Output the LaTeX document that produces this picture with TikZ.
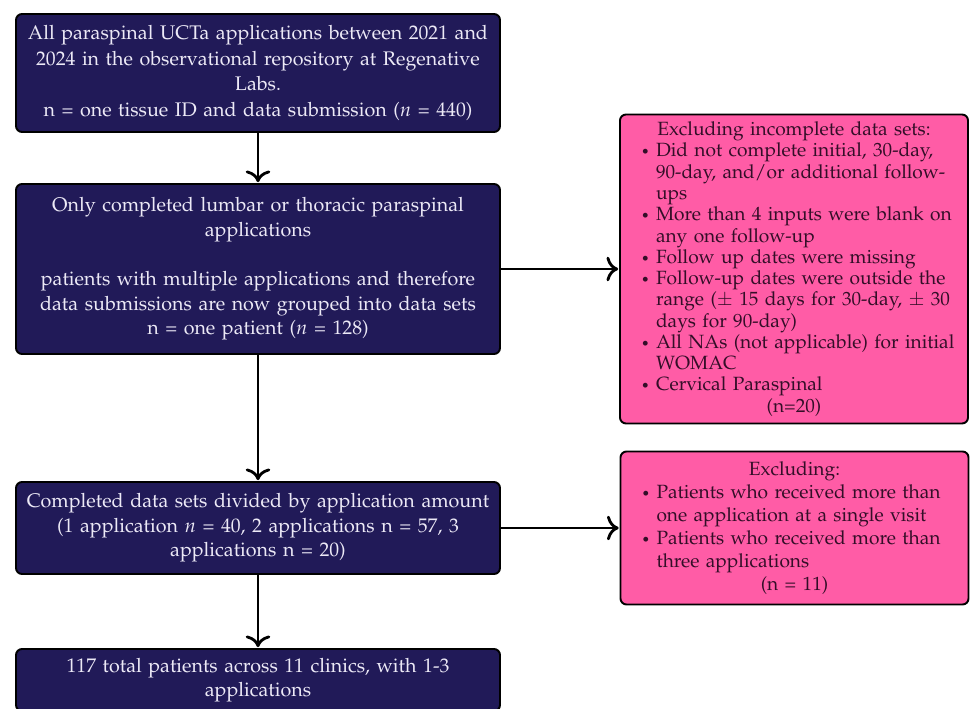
\documentclass[tikz,border=0pt]{standalone}
\usepackage[T1]{fontenc}
\usepackage{mathpazo}
\usepackage{tikz}
\usetikzlibrary{positioning,arrows.meta}
\definecolor{navy}{RGB}{33,26,88}
\definecolor{rose}{RGB}{255,92,166}
\definecolor{lilac}{RGB}{236,233,246}
\definecolor{plum}{RGB}{52,14,40}
\tikzset{
node distance=4cm, % centre to centre, since the picture is on grid
>={To[scale=1.3]}, % a heavier arrow head
stepbox/.style={draw=black, line width=1.1pt, rounded corners=0.12cm, fill=navy, text=lilac,
  minimum width=9.68cm, text width=9.68cm, inner sep=0pt, align=center,
  font=\fontsize{11.2}{14}\selectfont},
dropbox/.style={draw=black, line width=1.1pt, rounded corners=0.12cm, fill=rose, text=plum,
  minimum width=6.96cm, text width=6.76cm, inner xsep=0.1cm, inner ysep=0pt, align=left,
  font=\fontsize{10.9}{12.1}\selectfont},
}
% one bullet line with a hanging indent
\newcommand{\dropitem}{\par\noindent\hangindent=0.3cm\hangafter=1\makebox[0.3cm][l]{\footnotesize\textbullet}}

\begin{document}
\begin{tikzpicture}[shorten >=0.5pt,on grid,line width=1.6pt]
		\useasboundingbox (0,0) rectangle (19.4,-14.18);
		\node[stepbox, minimum height=2.36cm, font=\fontsize{11.2}{14.6}\selectfont] (s_0) at (5.16,-1.46)
		  {All paraspinal UCTa applications between 2021 and\\
		   2024 in the observational repository at Regenative\\
		   Labs.\\
		   n = one tissue ID and data submission ($n$ = 440)};
		\node[stepbox, minimum height=3.4cm] (s_1) [below=3.92cm of s_0]
		  {Only completed lumbar or thoracic paraspinal\\
		   applications\\[14pt]
		   patients with multiple applications and therefore\\
		   data submissions are now grouped into data sets\\
		   n = one patient ($n$ = 128)};
		\node[stepbox, minimum height=1.84cm] (s_2) [below=5.18cm of s_1]
		  {Completed data sets divided by application amount\\
		   (1 application $n$ = 40, 2 applications n = 57, 3\\
		   applications n = 20)};
		\node[stepbox, minimum height=1.24cm] (s_3) [below=3.04cm of s_2]
		  {117 total patients across 11 clinics, with 1-3\\
		   applications};
		\node[dropbox, minimum height=6.18cm] (e_1) [right=10.72cm of s_1]
		  {\leftskip=0.32cm
		   {\centering Excluding incomplete data sets:\par}
		   \dropitem Did not complete initial, 30-day,\newline 90-day, and/or additional follow-\newline ups
		   \dropitem More than 4 inputs were blank on\newline any one follow-up
		   \dropitem Follow up dates were missing
		   \dropitem Follow-up dates were outside the\newline range ($\pm$ 15 days for 30-day, $\pm$ 30\newline days for 90-day)
		   \dropitem All NAs (not applicable) for initial\newline WOMAC
		   \dropitem Cervical Paraspinal
		   \par{\centering (n=20)\par}};
		\node[dropbox, minimum height=3.06cm, font=\fontsize{10.9}{13}\selectfont] (e_2) [right=10.73cm of s_2]
		  {\leftskip=0.32cm
		   {\centering Excluding:\par}
		   \dropitem Patients who received more than\newline one application at a single visit
		   \dropitem Patients who received more than\newline three applications
		   \par{\centering (n = 11)\par}};
		\path[->]
		(s_0) edge (s_1)
		(s_1) edge (s_2)
		(s_2) edge (s_3)
		(s_1) edge (e_1)
		(s_2) edge (e_2);
\end{tikzpicture}
\end{document}
